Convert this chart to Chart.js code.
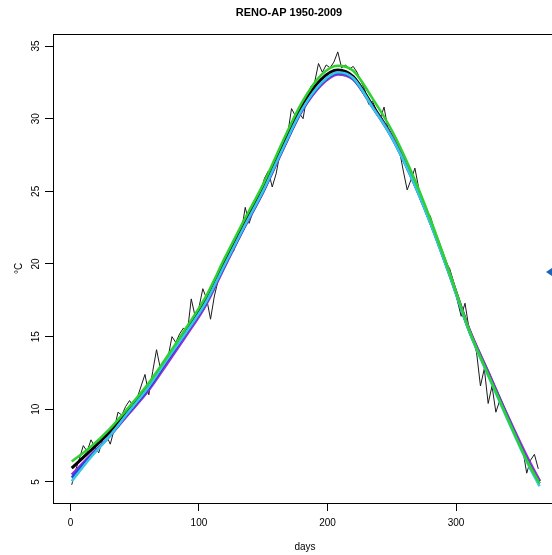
<!DOCTYPE html>
<html>
<head>
<meta charset="utf-8">
<title>RENO-AP 1950-2009</title>
<script src="https://cdn.jsdelivr.net/npm/chart.js@4.4.1/dist/chart.umd.min.js"></script>
<style>
  html, body { margin: 0; padding: 0; background: #fff; overflow: hidden; }
  #wrap { position: relative; width: 560px; height: 555px; }
  #marker {
    position: absolute; left: 546px; top: 268px; width: 0; height: 0;
    border-top: 4px solid transparent; border-bottom: 4px solid transparent;
    border-right: 6px solid #1565c0;
  }
</style>
</head>
<body>
<div id="wrap"><canvas id="renoChart"></canvas><div id="marker"></div></div>
<script>
// daily mean temperature, read every 3rd day (day 1, 4, 7, ... 364)
const dailyFirstDay = 1;
const dailyStep = 3;
const dailyTemps = [
  4.8, 5.8, 6.6, 7.5, 7.1, 7.9, 7.4, 7.0, 7.9, 8.2,
  7.6, 8.6, 9.8, 9.6, 10.2, 10.6, 10.2, 10.8, 11.6, 12.4,
  11.0, 12.6, 14.1, 12.8, 13.2, 13.6, 15.0, 14.6, 15.2, 15.6,
  15.3, 17.6, 16.4, 17.0, 18.3, 17.6, 16.2, 17.8, 18.9, 19.4,
  20.0, 20.6, 20.9, 21.8, 22.2, 23.9, 22.8, 23.6, 24.3, 25.0,
  25.9, 26.4, 25.3, 26.2, 27.6, 28.4, 28.9, 30.7, 30.2, 30.4,
  30.0, 31.6, 32.2, 32.5, 33.8, 33.2, 33.7, 33.5, 33.9, 34.6,
  33.5, 33.7, 33.4, 33.6, 33.2, 32.6, 32.0, 31.0, 31.2, 30.6,
  30.0, 30.8, 29.3, 28.9, 28.2, 27.8, 26.4, 25.1, 25.8, 26.6,
  25.2, 24.3, 23.6, 23.3, 22.4, 21.6, 20.9, 20.1, 19.7, 18.8,
  17.5, 16.4, 17.3, 15.6, 14.9, 13.9, 11.6, 12.8, 10.4, 11.6,
  9.8, 10.6, 10.2, 9.3, 8.7, 8.1, 7.8, 7.2, 5.6, 6.5,
  6.9, 5.9
];

// smoothed fits, read at these days
const smoothDays = [1, 15, 30, 45, 60, 75, 90, 105, 120, 135, 150, 165, 180, 195, 208, 220, 235, 250, 265, 280, 295, 310, 325, 340, 355, 365];
const fitBlack  = [5.95, 7.1, 8.4, 9.95, 11.55, 13.5, 15.45, 17.5, 20.2, 22.8, 25.3, 28.2, 30.9, 32.7, 33.35, 32.9, 30.9, 28.8, 26.1, 22.9, 19.3, 15.5, 12.5, 9.5, 6.6, 5.05];
const fitGreen  = [6.4, 7.35, 8.6, 10.1, 11.7, 13.6, 15.6, 17.7, 20.4, 23.0, 25.5, 28.4, 31.1, 33.0, 33.65, 33.3, 31.4, 29.2, 26.4, 23.1, 19.4, 15.5, 12.4, 9.4, 6.5, 4.9];
const fitCyan   = [5.05, 6.6, 8.1, 9.8, 11.45, 13.4, 15.3, 17.3, 19.95, 22.55, 25.05, 27.9, 30.6, 32.45, 33.2, 32.8, 30.8, 28.7, 26.0, 22.8, 19.2, 15.4, 12.3, 9.3, 6.4, 4.7];
const fitBlue   = [5.3, 6.7, 8.1, 9.75, 11.35, 13.3, 15.25, 17.25, 19.9, 22.5, 25.0, 27.85, 30.55, 32.4, 33.15, 32.75, 30.8, 28.7, 26.0, 22.85, 19.3, 15.45, 12.45, 9.45, 6.55, 4.9];
const fitPurple = [5.5, 6.8, 8.1, 9.65, 11.2, 13.1, 15.05, 17.1, 19.8, 22.45, 24.95, 27.8, 30.5, 32.3, 33.05, 32.7, 30.8, 28.8, 26.1, 22.95, 19.4, 15.6, 12.6, 9.6, 6.8, 5.1];

const xTicks = [0, 100, 200, 300];
const yTicks = [5, 10, 15, 20, 25, 30, 35];

const FONT = "'Liberation Sans', Arial, sans-serif";

const dailyPoints = dailyTemps.map((v, i) => ({ x: dailyFirstDay + i * dailyStep, y: v }));
const fitPoints = arr => arr.map((v, i) => ({ x: smoothDays[i], y: v }));

function fitLine(data, color, width) {
    return {
        data: fitPoints(data),
        borderColor: color,
        borderWidth: width,
        pointRadius: 0,
        cubicInterpolationMode: 'monotone',
        fill: false
    };
}

// plain frame round the plot, like R's box()
const boxPlugin = {
    id: 'box',
    afterDatasetsDraw(chart) {
        const { ctx, chartArea: a } = chart;
        ctx.save();
        ctx.strokeStyle = '#000';
        ctx.lineWidth = 1;
        ctx.strokeRect(Math.round(a.left) + 0.5, Math.round(a.top) + 0.5,
            Math.round(a.right - a.left), Math.round(a.bottom - a.top));
        ctx.restore();
    }
};

const ctx = document.getElementById('renoChart');
new Chart(ctx, {
    type: 'line',
    data: {
        datasets: [
            fitLine(fitGreen, '#2fd12f', 2.5),
            fitLine(fitCyan, '#35c6e6', 2.5),
            fitLine(fitBlue, '#2142dc', 2.5),
            fitLine(fitPurple, '#9630d6', 2.5),
            fitLine(fitBlack, '#000000', 3),
            {
                data: dailyPoints,
                borderColor: '#1a1a1a',
                borderWidth: 1,
                pointRadius: 0,
                tension: 0,
                fill: false
            }
        ]
    },
    options: {
        responsive: true,
        maintainAspectRatio: false,
        animation: false,
        layout: {
            padding: { left: 21, right: 3, top: 0, bottom: 0 }
        },
        plugins: {
            legend: { display: false },
            tooltip: { enabled: false },
            title: {
                display: true,
                text: 'RENO-AP 1950-2009',
                color: '#000',
                font: { family: FONT, size: 11, weight: 'bold' },
                padding: { top: 6, bottom: 14.8 }
            }
        },
        scales: {
            x: {
                type: 'linear',
                min: -13.56,
                max: 378.56,
                afterBuildTicks: s => { s.ticks = xTicks.map(v => ({ value: v })); },
                afterFit: s => { s.height = 52; },
                border: { display: false },
                grid: { drawOnChartArea: false, drawTicks: true, tickLength: 8, color: '#000' },
                ticks: {
                    color: '#000',
                    padding: 6.5,
                    maxRotation: 0,
                    font: { family: FONT, size: 10 }
                },
                title: {
                    display: true,
                    text: 'days',
                    color: '#000',
                    font: { family: FONT, size: 10 },
                    padding: { top: 0, bottom: 2 }
                }
            },
            y: {
                min: 3.55,
                max: 35.83,
                afterBuildTicks: s => { s.ticks = yTicks.map(v => ({ value: v })); },
                afterFit: s => { s.width = 32; },
                border: { display: false },
                grid: { drawOnChartArea: false, drawTicks: true, tickLength: 8, color: '#000' },
                ticks: {
                    color: '#000',
                    padding: 3,
                    minRotation: 90,
                    maxRotation: 90,
                    crossAlign: 'center',
                    font: { family: FONT, size: 10 }
                },
                title: {
                    display: true,
                    text: '°C',
                    color: '#000',
                    font: { family: FONT, size: 10 },
                    padding: { top: -8, bottom: 0 }
                }
            }
        }
    },
    plugins: [boxPlugin]
});
</script>
</body>
</html>
